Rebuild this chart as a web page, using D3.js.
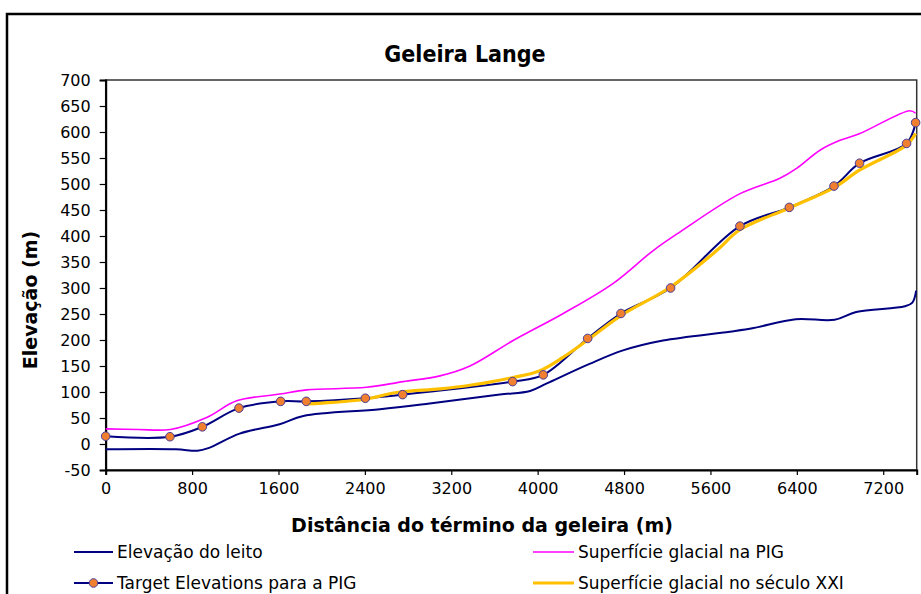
<!DOCTYPE html>
<html><head><meta charset="utf-8">
<script src="https://cdn.jsdelivr.net/npm/d3@7"></script>
<style>
body{margin:0;background:#fff;}
svg text{font-family:"DejaVu Sans",Verdana,sans-serif;fill:#000;}
</style></head>
<body><svg id="c" width="921" height="594"></svg>
<script>
// ---- data ----
const title = "Geleira Lange";
const xTitle = "Distância do término da geleira (m)";
const yTitle = "Elevação (m)";
const xTicks = [0, 800, 1600, 2400, 3200, 4000, 4800, 5600, 6400, 7200];
const yTicks = [-50, 0, 50, 100, 150, 200, 250, 300, 350, 400, 450, 500, 550, 600, 650, 700];
const seriesNames = ["Elevação do leito", "Superfície glacial na PIG", "Target Elevations para a PIG", "Superfície glacial no século XXI"];

const bedDist = [0, 650, 850, 950, 1240, 1610, 1830, 2540, 3000, 3650, 3930, 4080, 4480, 4790, 5160, 5780, 6000, 6390, 6750, 6950, 7400, 7470, 7505];
const bedElev = [-10, -10, -13, -8, 20, 38, 54, 67, 78, 95, 102, 116, 154, 180, 199, 216, 223, 240, 239, 254, 265, 272, 295];

const pigDist = [0, 300, 600, 935, 1213, 1614, 1861, 2417, 2755, 3095, 3373, 3773, 4237, 4700, 5070, 5320, 5870, 6243, 6398, 6614, 6800, 6984, 7447, 7500];
const pigElev = [29, 28, 28, 51, 83, 96, 104, 109, 120, 131, 150, 199, 251, 309, 372, 408, 481, 511, 530, 565, 584, 597, 641, 636];

const targetDist = [0, 595, 895, 1234, 1620, 1857, 2404, 2750, 3768, 4052, 4463, 4771, 5231, 5873, 6330, 6744, 6981, 7416, 7500];
const targetElev = [15, 14, 33, 69, 82, 82, 88, 95, 120, 133, 203, 251, 300, 419, 455, 496, 540, 578, 618];

const xxiDist = [1861, 2105, 2404, 2694, 3095, 3373, 3774, 4021, 4237, 4463, 4771, 5231, 5657, 5873, 6330, 6744, 6984, 7416, 7500];
const xxiElev = [77, 80, 86, 99, 106, 113, 128, 141, 167, 200, 247, 302, 372, 412, 454, 493, 527, 575, 597];

// ---- chart ----
const svg = d3.select("#c");
const L = 105.7, R = 916.7, T = 80, B = 470;
const x = d3.scaleLinear().domain([0, 7510]).range([L, R]);
const y = d3.scaleLinear().domain([-50, 700]).range([B, T]);

// outer border
svg.append("rect").attr("x", 7).attr("y", 14).attr("width", 940).attr("height", 620)
  .attr("fill", "none").attr("stroke", "#000").attr("stroke-width", 2.5);

// plot border
svg.append("rect").attr("x", L).attr("y", T).attr("width", R - L).attr("height", B - T)
  .attr("fill", "none").attr("stroke", "#333").attr("stroke-width", 1.5);

// title
svg.append("text").attr("x", 465).attr("y", 62).attr("text-anchor", "middle")
  .style("font-family", "'DejaVu Sans Condensed','DejaVu Sans',sans-serif")
  .style("font-stretch", "condensed")
  .style("font-weight", "bold").style("font-size", "23px").text(title);

// axes
const xAxis = d3.axisBottom(x).tickValues(xTicks).tickSize(5).tickPadding(8).tickFormat(d3.format("d"));
const gx = svg.append("g").attr("transform", `translate(0,${B})`).call(xAxis);
const yAxis = d3.axisLeft(y).tickValues(yTicks).tickSize(6).tickPadding(9).tickFormat(d3.format("d"));
const gy = svg.append("g").attr("transform", `translate(${L},0)`).call(yAxis);
[gx, gy].forEach(g => {
  g.select(".domain").attr("stroke", "#000").attr("stroke-width", 2);
  g.selectAll(".tick line").attr("stroke", "#000").attr("stroke-width", 1.2);
  g.selectAll(".tick text").style("font-size", "16px").style("font-family", "'DejaVu Sans',sans-serif").attr("fill", "#000");
});
gy.selectAll(".tick text").text(d => d < 0 ? "-" + Math.abs(d) : d);

// axis titles
svg.append("text").attr("x", 482).attr("y", 532).attr("text-anchor", "middle")
  .style("font-weight", "bold").style("font-size", "19px").text(xTitle);
svg.append("text").attr("transform", "translate(37,300) rotate(-90)").attr("text-anchor", "middle")
  .style("font-weight", "bold").style("font-size", "19px").text(yTitle);

// lines
const line = d3.line().x(d => x(d[0])).y(d => y(d[1])).curve(d3.curveCatmullRom.alpha(0.5));
const zip = (a, b) => a.map((v, i) => [v, b[i]]);

const plot = svg.append("g");
plot.append("path").datum(zip(bedDist, bedElev)).attr("d", line)
  .attr("fill", "none").attr("stroke", "#000080").attr("stroke-width", 2);
plot.append("path").datum(zip(pigDist, pigElev)).attr("d", line)
  .attr("fill", "none").attr("stroke", "#FF00FF").attr("stroke-width", 1.6);
plot.append("path").datum(zip(targetDist, targetElev)).attr("d", line)
  .attr("fill", "none").attr("stroke", "#000080").attr("stroke-width", 2);
plot.append("path").datum(zip(xxiDist, xxiElev)).attr("d", line)
  .attr("fill", "none").attr("stroke", "#FFC000").attr("stroke-width", 3.2);
plot.selectAll("circle.m").data(zip(targetDist, targetElev)).join("circle").attr("class", "m")
  .attr("cx", d => x(d[0])).attr("cy", d => y(d[1])).attr("r", 4.3)
  .attr("fill", "#F07F30").attr("stroke", "#4B3F9B").attr("stroke-width", 1);

// legend
const leg = [
  {name: seriesNames[0], x1: 74, x2: 113, y: 552, color: "#000080", w: 2, marker: false},
  {name: seriesNames[1], x1: 533, x2: 574, y: 552, color: "#FF00FF", w: 1.6, marker: false},
  {name: seriesNames[2], x1: 74, x2: 113, y: 583, color: "#000080", w: 2, marker: true},
  {name: seriesNames[3], x1: 533, x2: 574, y: 583, color: "#FFC000", w: 3, marker: false}
];
const lg = svg.append("g");
leg.forEach(e => {
  lg.append("line").attr("x1", e.x1).attr("x2", e.x2).attr("y1", e.y).attr("y2", e.y)
    .attr("stroke", e.color).attr("stroke-width", e.w);
  if (e.marker) lg.append("circle").attr("cx", (e.x1 + e.x2) / 2).attr("cy", e.y).attr("r", 4.3)
    .attr("fill", "#F07F30").attr("stroke", "#4B3F9B").attr("stroke-width", 1);
  lg.append("text").attr("x", e.x2 + 4).attr("y", e.y + 6).style("font-size", "17px").text(e.name);
});
</script></body></html>
